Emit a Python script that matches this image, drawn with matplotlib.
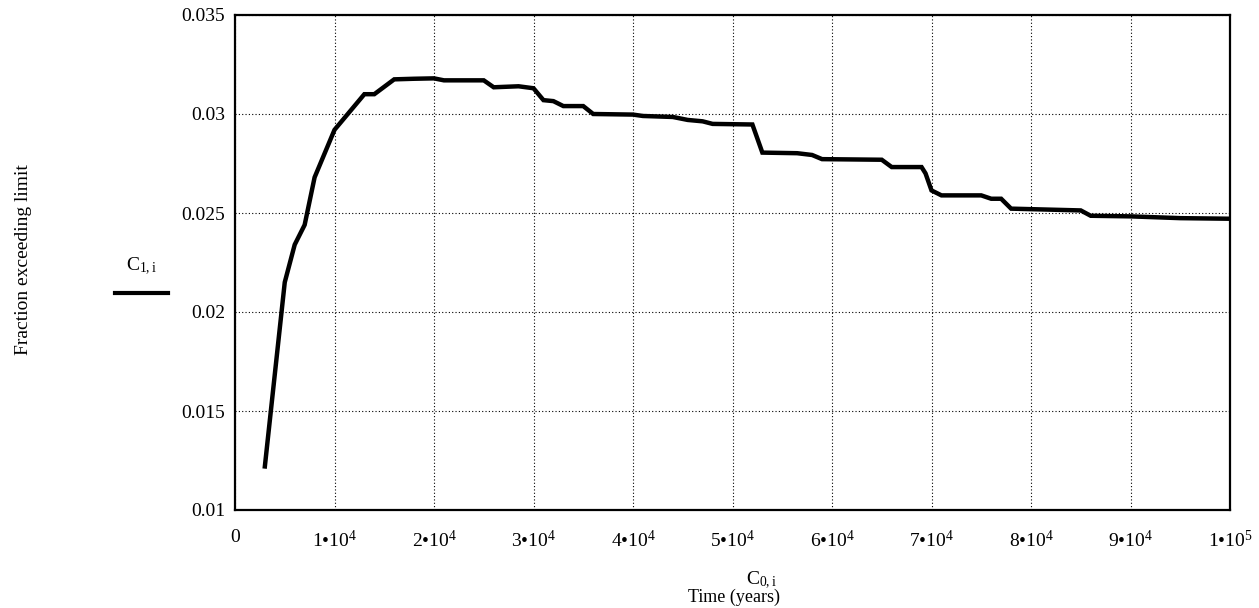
import matplotlib
matplotlib.use("Agg")
import matplotlib.pyplot as plt
from matplotlib.lines import Line2D
from matplotlib.ticker import FixedLocator, FixedFormatter

# ---- data ----
time_years = [3000, 5000, 6000, 7000, 8000, 10000, 11000, 12000, 13000, 14000,
              16000, 18000, 20000, 21000, 25000, 26000, 28500, 30000, 31000, 32000,
              33000, 35000, 36000, 40000, 41000, 44000, 45500, 47000, 48000, 52000,
              53000, 56500, 58000, 59000, 65000, 66000, 69000, 69400, 70000, 71000,
              75000, 76000, 77000, 78000, 85000, 86000, 90000, 95000, 100000]
fraction = [0.0122, 0.0215, 0.0234, 0.0244, 0.0268, 0.0292, 0.0298, 0.0304, 0.0310, 0.0310,
            0.03175, 0.03178, 0.0318, 0.0317, 0.0317, 0.03135, 0.0314, 0.0313, 0.0307, 0.03065,
            0.0304, 0.0304, 0.0300, 0.02997, 0.0299, 0.02985, 0.0297, 0.02963, 0.0295, 0.02947,
            0.02805, 0.02802, 0.02793, 0.02772, 0.02769, 0.02732, 0.02732, 0.0270, 0.02614, 0.02589,
            0.02589, 0.02572, 0.02572, 0.02522, 0.02513, 0.02486, 0.02483, 0.02474, 0.02471]

x_ticks = [0, 10000, 20000, 30000, 40000, 50000, 60000, 70000, 80000, 90000, 100000]
x_tick_labels = ["0"] + [f"{k}•$\\mathregular{{10^{{4}}}}$" for k in range(1, 10)] + ["1•$\\mathregular{10^{5}}$"]
y_ticks = [0.01, 0.015, 0.02, 0.025, 0.03, 0.035]
y_tick_labels = ["0.01", "0.015", "0.02", "0.025", "0.03", "0.035"]

plt.rcParams['font.family'] = ['Liberation Serif', 'DejaVu Serif']
plt.rcParams['mathtext.fontset'] = 'custom'
plt.rcParams['mathtext.rm'] = 'Liberation Serif'
plt.rcParams['mathtext.it'] = 'Liberation Serif:italic'
plt.rcParams['mathtext.bf'] = 'Liberation Serif:bold'

W, H = 1259, 608
fig = plt.figure(figsize=(W / 100, H / 100), dpi=100)
ax = fig.add_axes([235 / W, (H - 510) / H, 995 / W, 495 / H])

ax.plot(time_years, fraction, color='black', lw=3.2, solid_joinstyle='miter')
ax.set_xlim(0, 100000)
ax.set_ylim(0.01, 0.035)

ax.xaxis.set_major_locator(FixedLocator(x_ticks))
ax.xaxis.set_major_formatter(FixedFormatter(x_tick_labels))
ax.yaxis.set_major_locator(FixedLocator(y_ticks))
ax.yaxis.set_major_formatter(FixedFormatter(y_tick_labels))
ax.tick_params(axis='both', length=0, labelsize=14, colors='black')
ax.tick_params(axis='x', pad=14)
ax.tick_params(axis='y', pad=7)

ax.grid(True, color='black', linestyle=(0, (1, 2)), lw=0.8)
for s in ax.spines.values():
    s.set_linewidth(1.6)
    s.set_color('black')

fig.text(24 / W, 1 - 260 / H, 'Fraction exceeding limit', rotation=90,
         ha='center', va='center', fontsize=14)
fig.text(141 / W, 1 - 266 / H, r'$\mathregular{C_{1,i}}$', ha='center', va='center', fontsize=14)
fig.add_artist(Line2D([115 / W, 168 / W], [1 - 293 / H, 1 - 293 / H],
                      transform=fig.transFigure, color='black', lw=3))
fig.text(746 / W, 1 - 580 / H, r'$\mathregular{C_{0,i}}$', ha='left', va='center', fontsize=14)
fig.text(734 / W, 1 - 597 / H, 'Time (years)', ha='center', va='center', fontsize=13)

fig.savefig('out.png', dpi=100)
